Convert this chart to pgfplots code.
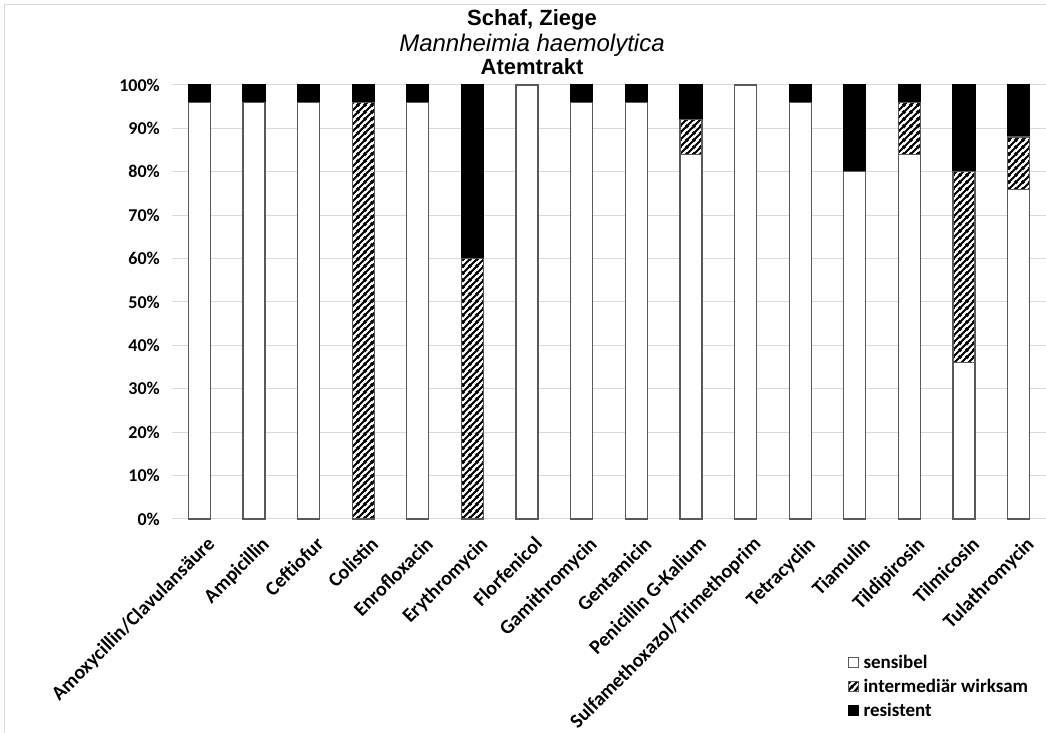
\documentclass[border=0pt]{standalone}
\usepackage{fontspec}
\setmainfont{Carlito}
\newfontfamily\arialfont{Liberation Sans}
\usepackage{pgfplots}
\pgfplotsset{compat=1.18}
\usetikzlibrary{patterns.meta}

\tikzdeclarepattern{
  name=hatch,
  type=uncolored,
  bounding box={(0bp,0bp) and (6.5bp,6.5bp)},
  tile size={(6.5bp,6.5bp)},
  code={
    \draw[line width=2.2bp] (-1bp,-1bp) -- (7.5bp,7.5bp);
    \draw[line width=2.2bp] (-1.5bp,5bp) -- (1.5bp,8bp);
    \draw[line width=2.2bp] (5bp,-1.5bp) -- (8bp,1.5bp);
  }
}

\pgfplotstableread{
x sens inter res
0  96 0  4
1  96 0  4
2  96 0  4
3  0  96 4
4  96 0  4
5  0  60 40
6  100 0 0
7  96 0  4
8  96 0  4
9  84 8  8
10 100 0 0
11 96 0  4
12 80 0  20
13 84 12 4
14 36 44 20
15 76 12 12
}\resdata

\newcommand{\lblfont}{\bfseries\fontsize{18bp}{21bp}\selectfont}
\newcommand{\catfont}{\bfseries\fontsize{20bp}{23bp}\selectfont}
\newcommand{\legfont}{\bfseries\fontsize{19bp}{22bp}\selectfont}

\begin{document}
\begin{tikzpicture}[x=1bp,y=1bp]
\draw[black!15, line width=1bp] (-167,-214) -- (-167,514) -- (880,514);
\begin{axis}[
  at={(0,0)}, anchor=south west,
  scale only axis, width=874bp, height=434bp,
  ybar stacked, bar width=22bp,
  xmin=-0.5, xmax=15.5, ymin=0, ymax=100,
  clip=false,
  axis line style={draw=none},
  tick style={draw=none},
  ymajorgrids, grid style={draw=black!15, line width=1bp},
  xtick={0,...,15},
  xticklabels={Amoxycillin/Clavulansäure, Ampicillin, Ceftiofur, Colistin,
    Enrofloxacin, Erythromycin, Florfenicol, Gamithromycin, Gentamicin,
    Penicillin G-Kalium, Sulfamethoxazol/Trimethoprim, Tetracyclin, Tiamulin,
    Tildipirosin, Tilmicosin, Tulathromycin},
  xticklabel style={rotate=45, anchor=north east, font=\catfont, inner sep=1bp, xshift=-6bp, yshift=-15bp},
  ytick={0,10,20,30,40,50,60,70,80,90,100},
  yticklabels={0\%,10\%,20\%,30\%,40\%,50\%,60\%,70\%,80\%,90\%,100\%},
  yticklabel style={font=\lblfont, inner sep=0pt, xshift=-12bp},
  legend style={at={(0.7735,-0.309)}, anchor=north west, draw=none, fill=none,
    font=\legfont, row sep=6.5bp, inner sep=0pt,
    nodes={inner sep=1.5bp}},
  legend cell align=left,
  sq/.style={legend image code/.code={\draw[##1, line width=0.8bp] (0bp,-5bp) rectangle (10bp,5bp);}},
]
\addplot[fill=white, draw=black!65, line width=1.2bp, sq] table[x=x, y=sens] {\resdata};
\addplot[pattern={hatch}, pattern color=black, draw=black!65, line width=1.2bp, sq] table[x=x, y=inter] {\resdata};
\addplot[fill=black, draw=black, line width=1.2bp, sq] table[x=x, y=res] {\resdata};
\legend{\hspace{3bp}sensibel, \hspace{3bp}intermediär wirksam, \hspace{3bp}resistent}
\end{axis}
\node[anchor=base, font=\arialfont\bfseries\fontsize{22bp}{24bp}\selectfont] at (360,493) {Schaf, Ziege};
\node[anchor=base, font=\arialfont\itshape\fontsize{24bp}{26bp}\selectfont] at (360,467) {Mannheimia haemolytica};
\node[anchor=base, font=\arialfont\bfseries\fontsize{22bp}{24bp}\selectfont] at (360,444) {Atemtrakt};
\pgfresetboundingbox
\path (-172,-214) rectangle (874,519);
\end{tikzpicture}
\end{document}
